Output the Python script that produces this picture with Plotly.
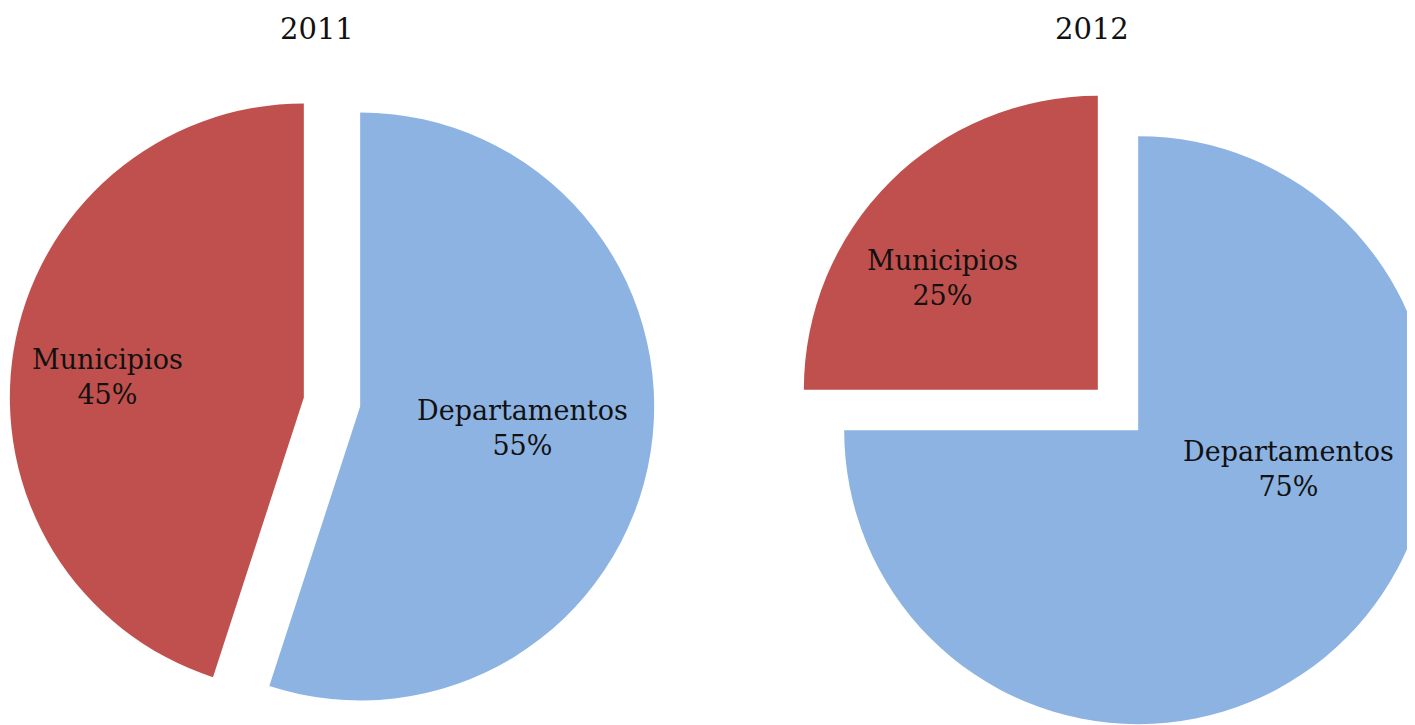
import plotly.graph_objects as go

years = ["2011", "2012"]
labels = ["Departamentos", "Municipios"]
values_2011 = [55, 45]
values_2012 = [75, 25]
colors = ["#8DB3E2", "#C0504D"]

# The page body adds an 8px offset; the figure is made a little larger than the
# window so the 2012 pie is cropped at the right edge like the reference.
OFF = 8
W, H = 1440, 733
FONT = "DejaVu Serif"

def px_x(x):
    return (x - OFF) / W

def px_y(y):
    return 1 - (y - OFF) / H

fig = go.Figure()

def dom(cx, cy, r, p):
    e = r * (1 + p)
    return dict(x=[px_x(cx - e), px_x(cx + e)], y=[px_y(cy + e), px_y(cy - e)])

PULL = 0.097
domains = [dom(332, 402, 294, PULL), dom(1118, 410, 294, PULL)]

for vals, d in zip([values_2011, values_2012], domains):
    fig.add_trace(go.Pie(
        labels=labels,
        values=vals,
        marker=dict(colors=colors, line=dict(width=0)),
        sort=False,
        direction="clockwise",
        rotation=0,
        pull=[PULL, PULL],
        textinfo="none",
        hoverinfo="skip",
        showlegend=False,
        domain=d,
    ))

# Slice labels built from the data
def lab(vals, i):
    pct = round(vals[i] / sum(vals) * 100)
    return f"{labels[i]}<br>{pct}%"

label_pos = [
    (values_2011, 1, 107, 377),
    (values_2011, 0, 522, 428),
    (values_2012, 1, 942, 278),
    (values_2012, 0, 1288, 469),
]
annotations = []
for vals, i, x, y in label_pos:
    annotations.append(dict(
        text=lab(vals, i), x=px_x(x), y=px_y(y), xref="paper", yref="paper",
        xanchor="center", yanchor="middle", showarrow=False,
        font=dict(family=FONT, size=27, color="#111111"), align="center",
    ))

for yr, x in zip(years, [317, 1092]):
    annotations.append(dict(
        text=yr, x=px_x(x), y=px_y(29), xref="paper", yref="paper",
        xanchor="center", yanchor="middle", showarrow=False,
        font=dict(family=FONT, size=29, color="#111111"),
    ))

fig.update_layout(
    width=W, height=H,
    margin=dict(l=0, r=0, t=0, b=0),
    paper_bgcolor="white",
    plot_bgcolor="white",
    annotations=annotations,
)

fig.write_html("out.html")
